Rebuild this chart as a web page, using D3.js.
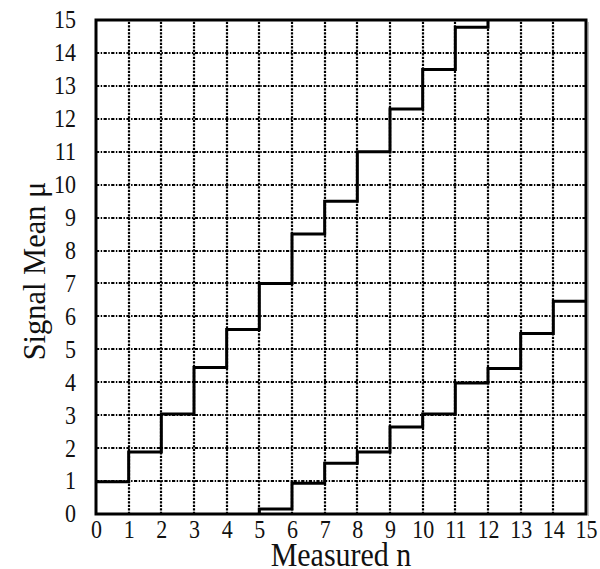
<!DOCTYPE html>
<html>
<head>
<meta charset="utf-8">
<script src="https://cdn.jsdelivr.net/npm/d3@7"></script>
<style>
  html, body { margin: 0; padding: 0; background: #fff; }
  svg { display: block; }
</style>
</head>
<body>
<svg id="chart" width="600" height="569"></svg>
<script>
// ---- data ----
const tickValues = [0,1,2,3,4,5,6,7,8,9,10,11,12,13,14,15];
const gridValues = [1,2,3,4,5,6,7,8,9,10,11,12,13,14];
// upper belt edge: value on [n, n+1)
const upperN    = [0, 1, 2, 3, 4, 5, 6, 7, 8, 9, 10, 11, 12];
const upperMu   = [0.98, 1.88, 3.04, 4.45, 5.6, 7.0, 8.5, 9.5, 11.0, 12.3, 13.5, 14.78, 15];
// lower belt edge: value on [n, n+1)
const lowerN    = [5, 5, 6, 7, 8, 9, 10, 11, 12, 13, 14, 15];
const lowerMu   = [0, 0.15, 0.93, 1.54, 1.88, 2.64, 3.04, 3.98, 4.42, 5.48, 6.46, 6.46];
const xTitle = "Measured n";
const yTitle = "Signal Mean \u03bc";

// ---- layout ----
const svg = d3.select("#chart");
const pLeft = 96, pRight = 586, pTop = 20, pBottom = 514;
const x = d3.scaleLinear().domain([0, 15]).range([pLeft, pRight]);
const y = d3.scaleLinear().domain([0, 15]).range([pBottom, pTop]);
const font = "'Liberation Serif', 'Times New Roman', serif";

// grid
const grid = svg.append("g");
grid.selectAll("line.v").data(gridValues).join("line")
  .attr("class", "v")
  .attr("x1", d => Math.round(x(d))).attr("x2", d => Math.round(x(d)))
  .attr("y1", y(0)).attr("y2", y(15))
  .attr("stroke", "#000").attr("stroke-width", 2.2)
  .attr("stroke-dasharray", "2.2,1.3");
grid.selectAll("line.h").data(gridValues).join("line")
  .attr("class", "h")
  .attr("x1", x(0)).attr("x2", x(15))
  .attr("y1", d => Math.round(y(d))).attr("y2", d => Math.round(y(d)))
  .attr("stroke", "#000").attr("stroke-width", 2.2)
  .attr("stroke-dasharray", "3.2,1.5,1.4,1.5");

// step lines
const line = d3.line().x(d => x(d[0])).y(d => y(d[1])).curve(d3.curveStepAfter);
const upperPts = upperN.map((n, i) => [n, upperMu[i]]);
const lowerPts = lowerN.map((n, i) => [n, lowerMu[i]]);
svg.append("path").attr("d", line(upperPts))
  .attr("fill", "none").attr("stroke", "#000").attr("stroke-width", 3);
svg.append("path").attr("d", line(lowerPts))
  .attr("fill", "none").attr("stroke", "#000").attr("stroke-width", 3);

// frame
svg.append("line").attr("x1", pRight + 2.5).attr("x2", pRight + 2.5)
  .attr("y1", pTop + 2).attr("y2", pBottom + 2).attr("stroke", "#bbb").attr("stroke-width", 1);
svg.append("rect")
  .attr("x", pLeft).attr("y", pTop)
  .attr("width", pRight - pLeft).attr("height", pBottom - pTop)
  .attr("fill", "none").attr("stroke", "#000").attr("stroke-width", 3);

// axes
const xAxis = svg.append("g").attr("transform", `translate(0,${pBottom})`)
  .call(d3.axisBottom(x).tickValues(tickValues).tickSize(0).tickPadding(6).tickFormat(d3.format("d")));
const yAxis = svg.append("g").attr("transform", `translate(${pLeft},0)`)
  .call(d3.axisLeft(y).tickValues(tickValues).tickSize(0).tickPadding(20).tickFormat(d3.format("d")));
[xAxis, yAxis].forEach(a => {
  a.select(".domain").remove();
  a.selectAll("text")
    .attr("font-family", font).attr("font-size", 22).attr("fill", "#111")
    .attr("transform", "scale(1,1.12)");
});

// titles
svg.append("text")
  .attr("x", 0).attr("y", 0)
  .attr("text-anchor", "middle")
  .attr("font-family", font).attr("font-size", 30).attr("fill", "#111")
  .attr("transform", `translate(${(pLeft + pRight) / 2},566) scale(1,1.1)`)
  .text(xTitle);
svg.append("text")
  .attr("x", 0).attr("y", 0)
  .attr("text-anchor", "middle")
  .attr("font-family", font).attr("font-size", 29).attr("fill", "#111")
  .attr("transform", "translate(45,271) rotate(-90) scale(1.05,1.12)")
  .text(yTitle);
</script>
</body>
</html>
